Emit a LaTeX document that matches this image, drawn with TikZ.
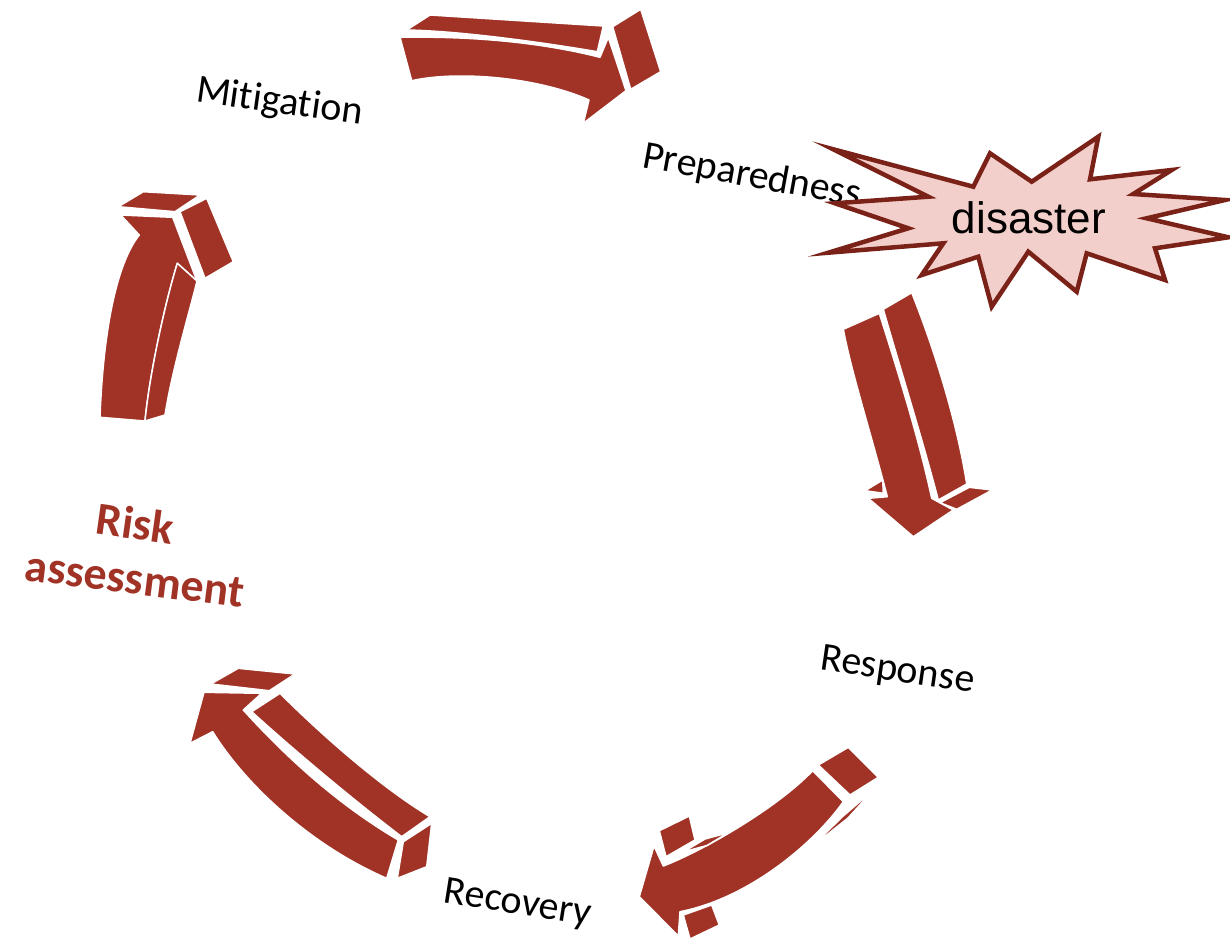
\documentclass[tikz,border=0pt]{standalone}
\usepackage{fontspec}
\setmainfont{Carlito}[Ligatures=NoCommon]
\newfontfamily\arialfont{Liberation Sans}
\definecolor{arrowred}{RGB}{161,50,38}
\definecolor{burstfill}{RGB}{243,207,203}
\definecolor{burstline}{RGB}{122,34,24}
\begin{document}
\begin{tikzpicture}[x=1pt,y=-1pt,
  face/.style={fill=arrowred,draw=white,line width=1.5pt,line join=round},
  lbl/.style={anchor=base,inner sep=0pt,font=\fontsize{40}{48}\selectfont},
  risklbl/.style={anchor=base,inner sep=0pt,text=arrowred,font=\bfseries\fontsize{46}{54}\selectfont},
  burst/.style={fill=burstfill,draw=burstline,line width=4.5pt,line join=miter}]
\useasboundingbox (0,0) rectangle (1230,939);

% ---- Arrow 1 (top, to the right)
\draw[face] (406.7,30) -- (430,15) -- (603.3,26) -- (597.3,51.7)
  .. controls (540,42) and (460,31) .. (406.7,30) -- cycle;
\draw[face] (400,37.3) .. controls (470,36) and (540,42) .. (600,57.3)
  -- (608.3,37.3) -- (626,90.7) -- (583.3,123.3) -- (589,100)
  .. controls (540,78) and (460,70) .. (411.7,80.7) -- cycle;
\draw[face] (612.7,26.7) -- (640.7,9.3) -- (660.7,71.7) -- (630.7,89.3) -- cycle;

% ---- Arrow 2 (right, downwards)
\draw[face] (843.3,329.3) -- (879.3,313.3)
  .. controls (898.3,373.3) and (918.3,436.7) .. (931.7,498.3)
  -- (953.3,510) -- (913.3,536.7) -- (868.3,498.3) -- (887.3,496.7)
  .. controls (870,430) and (851.7,373.3) .. (843.3,329.3) -- cycle;
\draw[face] (883.3,309.3) -- (911.7,292.7)
  .. controls (933.3,346.7) and (956.7,420) .. (966.7,484)
  -- (938.3,500)
  .. controls (921.7,436.7) and (901.7,373.3) .. (883.3,309.3) -- cycle;
\draw[face] (865,490.7) -- (882.7,480) -- (883.3,493.3) -- cycle;
\draw[face] (940,502.7) -- (969.3,487.3) -- (992.3,490) -- (956.7,509.3) -- cycle;

% ---- Arrow 3 (bottom right, to the lower left)
\draw[face] (812.7,770.7) -- (843.3,801.7)
  .. controls (815,842) and (750,898) .. (680,911.7)
  -- (678.3,936) -- (639.3,896.7) -- (654,846) -- (663.3,866)
  .. controls (700,852) and (775,810) .. (812.7,770.7) -- cycle;
\draw[face] (659.3,830.7) -- (689.3,816) -- (695,840) -- (666,856.7) -- cycle;
\draw[face] (683,852) -- (705,839) -- (728.3,832.7) -- (707,845.5) -- cycle;
\draw[face] (811.7,847) -- (842,817) -- (874,789.5) -- (848,818) -- cycle;
\draw[face] (818.3,765) -- (848.3,747.3) -- (878.3,777.3) -- (850,795) -- cycle;
\draw[face] (683.3,915) -- (711.7,905) -- (719.3,925) -- (690,939) -- cycle;

% ---- Arrow 4 (bottom left, to the upper left)
\draw[face] (204,692.3) -- (190,743.3) -- (212.7,731.7)
  .. controls (246.7,786.7) and (313.3,846.7) .. (386.7,878.3)
  -- (398.3,840)
  .. controls (330,800) and (276.7,746.7) .. (243.3,710)
  -- (261.7,693.3) -- cycle;
\draw[face] (251.7,711.7) -- (280,693.3)
  .. controls (320,733.3) and (380,786.7) .. (430,816.7)
  -- (401.7,836.7)
  .. controls (353.3,800) and (290,746.7) .. (251.7,711.7) -- cycle;
\draw[face] (210.7,684) -- (238.3,668.3) -- (295,674) -- (269.3,690.7) -- cycle;
\draw[face] (403.3,841.7) -- (431.7,823.3) -- (426.7,866.7) -- (397.3,878.3) -- cycle;

% ---- Arrow 5 (left, upwards)
\draw[face] (100,417.3) .. controls (103.3,330) and (116.7,263.3) .. (139.3,235)
  -- (120.7,215) -- (172.7,217.3) -- (197,281) -- (177.3,263.3)
  .. controls (166,300) and (150,370) .. (145,421) -- cycle;
\draw[face] (177.3,263.3) -- (197,281)
  .. controls (190,310) and (172,370) .. (165,415)
  -- (145,421)
  .. controls (150,370) and (166,300) .. (177.3,263.3) -- cycle;
\draw[face] (118.3,206.7) -- (143.3,191.7) -- (200,195) -- (175,211.7) -- cycle;
\draw[face] (180,211.7) -- (206.7,198.3) -- (233.3,261.7) -- (205,278.3) -- cycle;

% ---- Labels
\node[lbl, rotate=-8] (mitigation) at (278,113) {Mitigation};
\node[lbl, rotate=-10.3] (preparedness) at (750,187) {Preparedness};
\node[lbl, rotate=-8.2] (response) at (896,681) {Response};
\node[lbl, rotate=-9] (recovery) at (516,914) {Recovery};
\node[risklbl, rotate=-8] (risk) at (133,539) {Risk};
\node[risklbl, rotate=-7.3] (assessment) at (133,594) {assessment};

% ---- Disaster starburst
\draw[burst] (833.3,149.3) -- (973.3,186.7) -- (990,153.3) -- (1031.7,181.7)
  -- (1098.3,136.7) -- (1090,179.3) -- (1171.7,170) -- (1133.3,194)
  -- (1225,200) -- (1146.7,218.3) -- (1228.3,237.3) -- (1155,248.3)
  -- (1165,280) -- (1086.7,253.3) -- (1076.7,291.7) -- (1028.3,251.7)
  -- (991.7,306.7) -- (978.3,256.7) -- (921.7,275) -- (943.3,243.3)
  -- (828.3,252.7) -- (908.3,228.3) -- (835,203.3) -- (928.3,196.7) -- cycle;
\node[anchor=base,inner sep=0pt,font=\arialfont\fontsize{44}{52}\selectfont] (disaster) at (1029,233) {disaster};
\end{tikzpicture}
\end{document}
